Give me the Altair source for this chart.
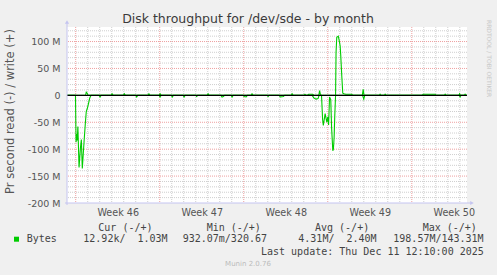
import altair as alt
import pandas as pd

# ---------------- text content ----------------
TITLE = "Disk throughput for /dev/sde - by month"
Y_TITLE = "Pr second read (-) / write (+)"
SIDE_TEXT = "RRDTOOL / TOBI OETIKER"
FIRST_WEEK = 46
legend_head = ["Cur (-/+)", "Min (-/+)", "Avg (-/+)", "Max (-/+)"]
legend_series = "Bytes"
legend_vals = ["12.92k/\u00a0\u00a01.03M", "932.07m/320.67", "4.31M/\u00a0\u00a02.40M", "198.57M/143.31M"]
last_update = "Last update: Thu Dec 11 12:10:00 2025"
footer = "Munin 2.0.76"

# ---------------- axes / grid values (days from Mon, week 46 start; MB/s) ----------------
week_label_pos = [3.5, 10.5, 17.5, 24.5, 31.5]
week_starts = [0, 7, 14, 21, 28]
day_lines = [1, 2, 3, 4, 5, 6, 8, 9, 10, 11, 12, 13, 15, 16, 17, 18, 19, 20,
             22, 23, 24, 25, 26, 27, 29, 30, 31, 32]
y_ticks = [-200, -150, -100, -50, 0, 50, 100]
y_major = [-150, -100, -50, 50, 100]
y_minor = [-190, -180, -170, -160, -140, -130, -120, -110, -90, -80, -70, -60,
           -40, -30, -20, -10, 10, 20, 30, 40, 60, 70, 80, 90, 110, 120]

# ---------------- series: read (negative) ----------------
read_t = [-0.72, -0.02, 0.03, 0.08, 0.13, 0.18, 0.28, 0.40, 0.47, 0.55, 0.69, 0.79,
          0.88, 0.97, 1.07, 1.17, 1.28,
          1.95, 2.03, 2.11, 5.00, 5.08, 5.16, 6.95, 7.03, 7.11, 7.97, 8.05, 8.13,
          8.95, 9.03, 9.11, 10.00, 10.08, 10.16, 12.10, 12.19, 12.30, 12.40,
          12.95, 13.03, 13.11, 13.95, 14.03, 14.20, 14.30, 15.95, 16.03, 16.11,
          16.95, 17.05, 17.30, 17.40,
          19.70, 19.85, 20.03, 20.19, 20.28,
          20.48, 20.57, 20.63, 20.78, 20.92, 21.00, 21.07, 21.15, 21.25, 21.32,
          21.42, 21.47, 21.53, 21.58, 21.65,
          23.90, 24.00, 24.08, 31.95, 32.03, 32.10, 32.60]
read_v = [0, 0, -87, -72, -84, -58, -134, -96, -82, -136, -88, -56,
          -30, -24, -15, -5, 0,
          0, -3, 0, 0, -3, 0, 0, -3, 0, 0, -3, 0,
          0, -3, 0, 0, -2, 0, 0, -3, -2, 0,
          0, -3, 0, 0, -2, -3, 0, 0, -2, 0,
          0, -3, -2, 0,
          0, -5, -7, -6, 0,
          0, -45, -56, -34, -50, -40, -55, -3, -8, -60,
          -103, -100, -78, -40, 0,
          0, -7, 0, 0, -3, 0, 0]

# ---------------- series: write (positive) ----------------
write_t = [-0.72, 0.82, 0.88, 0.96, 1.03,
           2.95, 3.03, 3.11, 3.97, 4.05, 4.13, 6.02, 6.10, 6.18, 6.95, 7.03, 7.11,
           10.95, 11.03, 11.11, 14.61, 14.69, 14.77, 17.95, 18.03, 18.11,
           19.02, 19.10, 19.18, 19.30, 19.40, 19.75, 19.85, 20.25, 20.32, 20.40,
           21.65, 21.69, 21.75, 21.88, 21.97, 22.03, 22.08, 22.17, 22.25, 22.36,
           22.50, 23.00, 23.08, 23.88, 23.95, 24.02,
           25.30, 25.36, 25.43, 25.72, 25.78, 25.85, 28.88, 28.94, 29.94, 30.00,
           30.72, 30.78, 30.85, 31.92, 31.98, 32.05, 32.38, 32.44, 32.50, 32.60]
write_v = [0, 0, 6, 4, 0,
           0, 3, 0, 0, 3, 0, 0, 3, 0, 0, 3, 0,
           0, 3, 0, 0, 3, 0, 0, 3, 0,
           0, 2, 0, 0, 2, 2, 0, 0, 9, 0,
           0, 80, 108, 110, 100, 92, 75, 35, 4, 3,
           2, 2, 0, 0, 11, 0,
           0, 2, 0, 0, 2, 0, 0, 2, 2, 0,
           0, 2, 0, 0, 3, 0, 0, 2, 0, 0]

# ---------------- styling ----------------
GREEN = "#00CC00"
AXIS_COL = "#C4C4F0"
MINOR_COL = "#CFCFCF"
MAJOR_COL = "#EEA0A0"
TEXT_COL = "#444444"
SANS = "DejaVu Sans"
MONO = "DejaVu Sans Mono"
W, H = 400, 176

xs = alt.Scale(domain=[-0.725, 32.6], nice=False, zero=False)
ys = alt.Scale(domain=[-200, 127], nice=False, zero=False)

X_AX = alt.Axis(
    values=week_label_pos, labelExpr=f"'Week ' + ({FIRST_WEEK} + floor(datum.value / 7))",
    grid=False, ticks=False, domain=False, title=None, labelFontSize=9.6,
    labelColor="#555555", labelFont=SANS, labelPadding=4, labelFontWeight="normal")
Y_AX = alt.Axis(
    values=y_ticks, labelExpr="datum.value == 0 ? '0' : datum.value + ' M'",
    grid=False, ticks=False, domain=False, title=None, labelFontSize=9.5,
    labelColor="#555555", labelFont=SANS, labelPadding=7)

series_df = pd.concat([
    pd.DataFrame({"t": read_t, "v": read_v, "s": "read"}),
    pd.DataFrame({"t": write_t, "v": write_v, "s": "write"}),
])

lines = alt.Chart(series_df).mark_line(color=GREEN, strokeWidth=1.1).encode(
    x=alt.X("t:Q", scale=xs, axis=X_AX),
    y=alt.Y("v:Q", scale=ys, axis=Y_AX),
    detail="s:N",
    order="t:Q",
)

minor_v = alt.Chart(pd.DataFrame({"t": day_lines})).mark_rule(
    color=MINOR_COL, strokeDash=[1, 1], strokeWidth=1
).encode(x=alt.X("t:Q", scale=xs, axis=X_AX))

minor_h = alt.Chart(pd.DataFrame({"v": y_minor})).mark_rule(
    color=MINOR_COL, strokeDash=[1, 1], strokeWidth=1
).encode(y=alt.Y("v:Q", scale=ys, axis=Y_AX))

major_v = alt.Chart(pd.DataFrame({"t": week_starts})).mark_rule(
    color=MAJOR_COL, strokeDash=[1, 1], strokeWidth=1
).encode(x=alt.X("t:Q", scale=xs, axis=X_AX))

major_h = alt.Chart(pd.DataFrame({"v": y_major})).mark_rule(
    color=MAJOR_COL, strokeDash=[1, 1], strokeWidth=1
).encode(y=alt.Y("v:Q", scale=ys, axis=Y_AX))

zero_line = alt.Chart(pd.DataFrame({"v": [0]})).mark_rule(
    color="black", strokeWidth=1.4
).encode(y=alt.Y("v:Q", scale=ys, axis=Y_AX))

one = pd.DataFrame({"a": [0]})
y_axis_line = alt.Chart(one).mark_rule(color=AXIS_COL, strokeWidth=1).encode(
    x=alt.value(0), y=alt.value(-4), y2=alt.value(H + 2))
x_axis_line = alt.Chart(one).mark_rule(color=AXIS_COL, strokeWidth=1).encode(
    x=alt.value(-2), x2=alt.value(W + 4), y=alt.value(H))
arrow_up = alt.Chart(one).mark_point(shape="triangle-up", filled=True, size=18,
                                     color=AXIS_COL, opacity=1).encode(
    x=alt.value(0), y=alt.value(-5))
arrow_right = alt.Chart(one).mark_point(shape="triangle-right", filled=True, size=18,
                                        color=AXIS_COL, opacity=1).encode(
    x=alt.value(W + 5), y=alt.value(H))


def label(s, x, y, **kw):
    return alt.Chart(pd.DataFrame({"s": [s]})).mark_text(**kw).encode(
        text="s:N", x=alt.value(x), y=alt.value(y))


texts = [
    label(TITLE, 181, -8, font=SANS, fontSize=12.5, color="#3A3A3A",
          align="center", baseline="middle"),
    label(Y_TITLE, -56, 84.5, font=SANS, fontSize=11.5, color="#555555",
          align="center", baseline="middle", angle=270),
    label(SIDE_TEXT, 421.5, -7, font=SANS, fontSize=6, color="#C8C8C8",
          align="left", baseline="middle", angle=90),
    label(footer, 181, 237, font=SANS, fontSize=7, color="#BBBBBB",
          align="center", baseline="middle"),
    label(last_update, 194, 224.7, font=MONO, fontSize=10, color=TEXT_COL,
          align="left", baseline="middle"),
    label(legend_series, -40.3, 212, font=MONO, fontSize=10, color=TEXT_COL,
          align="left", baseline="middle"),
]
for s, x in zip(legend_head, [31.3, 139.7, 248, 355.7]):
    texts.append(label(s, x, 200.5, font=MONO, fontSize=10, color=TEXT_COL,
                       align="left", baseline="middle"))
for s, x in zip(legend_vals, [16.3, 115.7, 231.3, 326.3]):
    texts.append(label(s, x, 212, font=MONO, fontSize=10, color=TEXT_COL,
                       align="left", baseline="middle"))

swatch = alt.Chart(one).mark_square(color=GREEN, size=25, opacity=1).encode(
    x=alt.value(-50.5), y=alt.value(212.2))

chart = alt.layer(
    minor_v, minor_h, major_v, major_h, lines, zero_line,
    y_axis_line, x_axis_line, arrow_up, arrow_right, swatch, *texts
).properties(
    width=W, height=H,
    autosize=alt.AutoSizeParams(type="none"),
    padding={"left": 67, "top": 27, "right": 30, "bottom": 72},
    background="#F0F0F0",
).configure_view(fill="white", stroke=None)

chart.save("out.html", embed_options={"renderer": "svg", "actions": False})
